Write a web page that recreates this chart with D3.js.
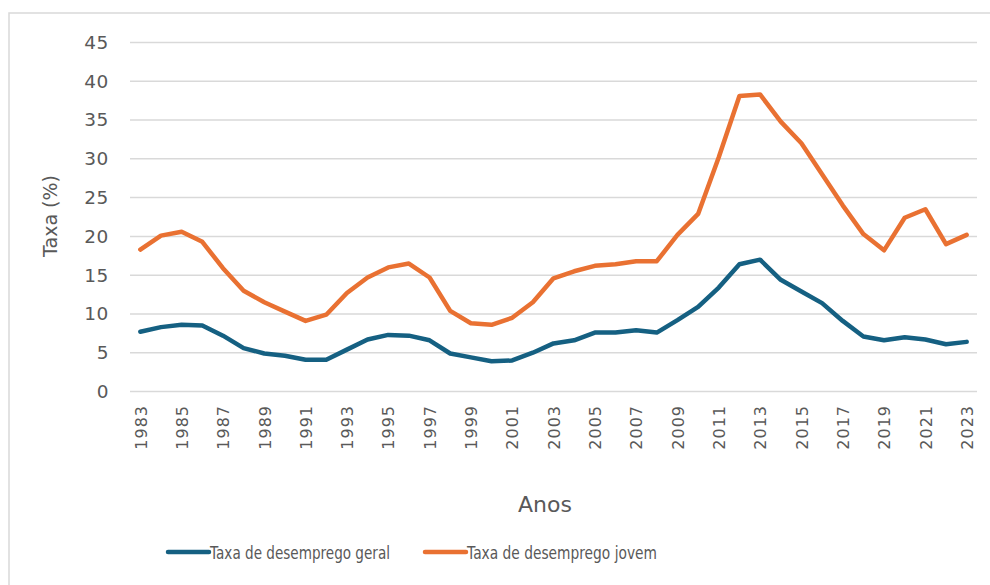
<!DOCTYPE html>
<html>
<head>
<meta charset="utf-8">
<script src="https://cdn.jsdelivr.net/npm/d3@7"></script>
<style>
  body { margin: 0; background: #fff; }
  svg { display: block; }
</style>
</head>
<body>
<svg id="svg" width="990" height="585"></svg>
<script>
//Data
var years = ['1983','1984','1985','1986','1987','1988','1989','1990','1991','1992',
  '1993','1994','1995','1996','1997','1998','1999','2000','2001','2002',
  '2003','2004','2005','2006','2007','2008','2009','2010','2011','2012',
  '2013','2014','2015','2016','2017','2018','2019','2020','2021','2022','2023'];
var geral = [7.7, 8.3, 8.6, 8.5, 7.2, 5.6, 4.9, 4.6, 4.1, 4.1,
  5.4, 6.7, 7.3, 7.2, 6.6, 4.9, 4.4, 3.9, 4.0, 5.0,
  6.2, 6.6, 7.6, 7.6, 7.9, 7.6, 9.2, 10.9, 13.4, 16.4,
  17.0, 14.4, 12.9, 11.4, 9.1, 7.1, 6.6, 7.0, 6.7, 6.1, 6.4];
var jovem = [18.3, 20.1, 20.6, 19.3, 15.9, 13.0, 11.5, 10.3, 9.1, 9.9,
  12.7, 14.7, 16.0, 16.5, 14.7, 10.4, 8.8, 8.6, 9.5, 11.5,
  14.6, 15.5, 16.2, 16.4, 16.8, 16.8, 20.2, 22.9, 30.2, 38.1,
  38.3, 34.8, 32.0, 28.0, 24.0, 20.3, 18.2, 22.4, 23.5, 19.0, 20.2];
var yTicks = [0, 5, 10, 15, 20, 25, 30, 35, 40, 45];
var xTickLabels = years.filter(function(d, i) { return i % 2 === 0; });
var series = [
  {name: 'Taxa de desemprego geral', values: geral, color: '#156082'},
  {name: 'Taxa de desemprego jovem', values: jovem, color: '#E97132'}
];

var svg = d3.select('#svg');
var textColor = '#595959';
var gridColor = '#d9d9d9';

//Chart border
svg.append('rect')
  .attr('x', 9).attr('y', 13)
  .attr('width', 1000).attr('height', 600)
  .attr('fill', 'none')
  .attr('stroke', gridColor)
  .attr('stroke-width', 1.5);

//Scales
var x = d3.scalePoint().domain(years).range([130, 977]).padding(0.5);
var y = d3.scaleLinear().domain([0, 45]).range([391.5, 42.5]);

//Grid lines
svg.append('g').selectAll('line')
  .data(yTicks)
  .enter().append('line')
  .attr('x1', 130).attr('x2', 977)
  .attr('y1', function(d) { return y(d); })
  .attr('y2', function(d) { return y(d); })
  .attr('stroke', gridColor)
  .attr('stroke-width', 1.5);

//Y axis
var yAxis = svg.append('g')
  .attr('transform', 'translate(109,0)')
  .call(d3.axisLeft(y).tickValues(yTicks).tickSize(0).tickPadding(0));
yAxis.select('.domain').remove();
yAxis.selectAll('text')
  .attr('fill', textColor)
  .style('font-family', 'DejaVu Sans, sans-serif')
  .style('font-size', '18.5px')
  .style('letter-spacing', '0.6px');

//X axis
var xAxis = svg.append('g')
  .attr('transform', 'translate(0,405)')
  .call(d3.axisBottom(x).tickValues(xTickLabels).tickSize(0).tickPadding(0));
xAxis.select('.domain').remove();
xAxis.selectAll('text')
  .attr('fill', textColor)
  .attr('transform', 'rotate(-90)')
  .attr('text-anchor', 'end')
  .attr('x', 0)
  .attr('y', 0)
  .attr('dy', '0.36em')
  .style('font-family', 'DejaVu Sans, sans-serif')
  .style('font-size', '16px')
  .style('letter-spacing', '1px');

//Axis titles
svg.append('text')
  .attr('transform', 'translate(57,216) rotate(-90)')
  .attr('text-anchor', 'middle')
  .attr('fill', textColor)
  .style('font-family', 'DejaVu Sans, sans-serif')
  .style('font-size', '19px')
  .text('Taxa (%)');

svg.append('text')
  .attr('x', 545).attr('y', 512)
  .attr('text-anchor', 'middle')
  .attr('fill', textColor)
  .style('font-family', 'DejaVu Sans, sans-serif')
  .style('font-size', '22px')
  .text('Anos');

//Lines
var line = d3.line()
  .x(function(d, i) { return x(years[i]); })
  .y(function(d) { return y(d); });

svg.append('g').selectAll('path')
  .data(series)
  .enter().append('path')
  .attr('d', function(s) { return line(s.values); })
  .attr('fill', 'none')
  .attr('stroke', function(s) { return s.color; })
  .attr('stroke-width', 4.5)
  .attr('stroke-linejoin', 'round')
  .attr('stroke-linecap', 'round');

//Legend
var legendX = [168, 425];
var legendWidth = [180, 190];
var legend = svg.append('g').selectAll('g')
  .data(series)
  .enter().append('g')
  .attr('transform', function(s, i) { return 'translate(' + legendX[i] + ',552)'; });
legend.append('line')
  .attr('x1', 0).attr('x2', 41)
  .attr('stroke', function(s) { return s.color; })
  .attr('stroke-width', 4.5)
  .attr('stroke-linecap', 'round');
legend.append('text')
  .attr('x', 42).attr('y', 6.5)
  .attr('fill', textColor)
  .attr('textLength', function(s, i) { return legendWidth[i]; })
  .attr('lengthAdjust', 'spacingAndGlyphs')
  .style('font-family', 'DejaVu Sans, sans-serif')
  .style('font-size', '18px')
  .text(function(s) { return s.name; });
</script>
</body>
</html>
